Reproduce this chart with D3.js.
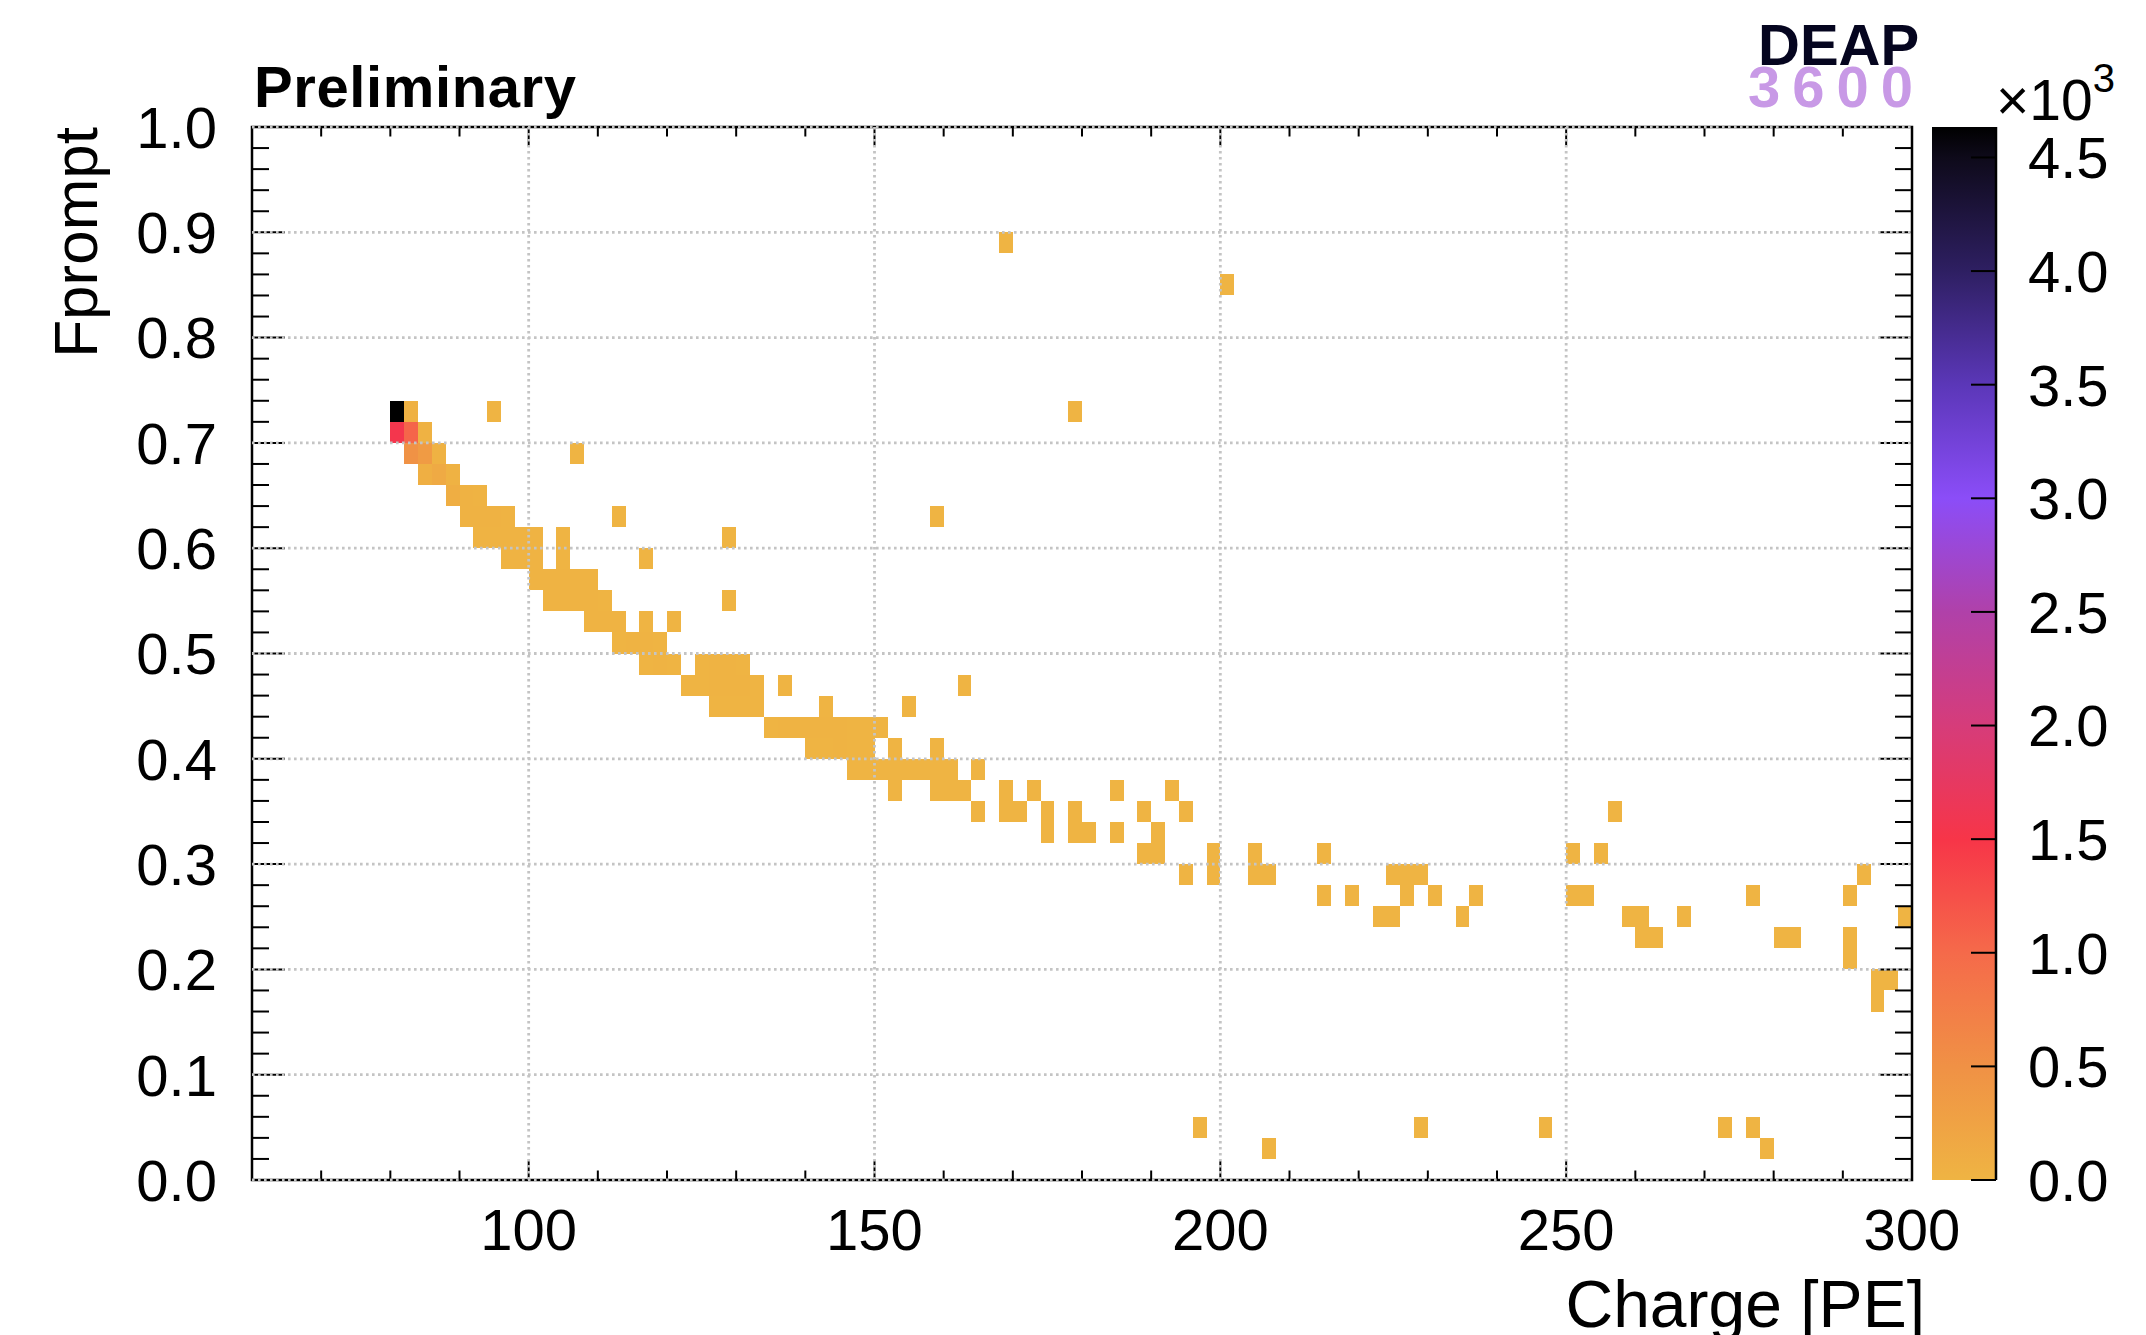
<!DOCTYPE html>
<html>
<head>
<meta charset="utf-8">
<title>Fprompt vs Charge</title>
<script src="https://cdnjs.cloudflare.com/ajax/libs/d3/7.8.5/d3.min.js"></script>
<style>
body{
    margin: 0;
    padding: 0;
    background: #fff;
}
svg text{
    font-family: "Liberation Sans", Arial, Helvetica, sans-serif;
}
</style>
</head>
<body>
<div id="chart"></div>
<script>
// histogram bins: lower edge of each Fprompt row, and the charge bins (lower edges) filled in it
var binCharge = 2, binFprompt = 0.02;
var fpromptRows = [0.88, 0.84, 0.72, 0.70, 0.68, 0.66, 0.64, 0.62, 0.60, 0.58, 0.56, 0.54, 0.52, 0.50,
    0.48, 0.46, 0.44, 0.42, 0.40, 0.38, 0.36, 0.34, 0.32, 0.30, 0.28, 0.26, 0.24, 0.22, 0.20, 0.18,
    0.16, 0.04, 0.02];
var chargeByRow = [
    [168],
    [200],
    [80, 82, 94, 178],
    [80, 82, 84],
    [82, 84, 86, 106],
    [84, 86, 88],
    [88, 90, 92],
    [90, 92, 94, 96, 112, 158],
    [92, 94, 96, 98, 100, 104, 128],
    [96, 98, 100, 104, 116],
    [100, 102, 104, 106, 108],
    [102, 104, 106, 108, 110, 128],
    [108, 110, 112, 116, 120],
    [112, 114, 116, 118],
    [116, 118, 120, 124, 126, 128, 130],
    [122, 124, 126, 128, 130, 132, 136, 162],
    [126, 128, 130, 132, 142, 154],
    [134, 136, 138, 140, 142, 144, 146, 148, 150],
    [140, 142, 144, 146, 148, 152, 158],
    [146, 148, 150, 152, 154, 156, 158, 160, 164],
    [152, 158, 160, 162, 168, 172, 184, 192],
    [164, 168, 170, 174, 178, 188, 194, 256],
    [174, 178, 180, 184, 190],
    [188, 190, 198, 204, 214, 250, 254],
    [194, 198, 204, 206, 224, 226, 228, 292],
    [214, 218, 226, 230, 236, 250, 252, 276, 290],
    [222, 224, 234, 258, 260, 266, 298],
    [260, 262, 280, 282, 290],
    [290],
    [294, 296],
    [294],
    [196, 228, 246, 272, 276],
    [206, 278]
];
var countsByRow = [
    [4],
    [3],
    [4634, 40, 6, 3],
    [1550, 1050, 35],
    [480, 360, 30, 4],
    [70, 140, 25],
    [90, 30, 20],
    [25, 30, 22, 15, 3, 2],
    [12, 20, 18, 14, 10, 4, 2],
    [10, 14, 12, 5, 3],
    [14, 16, 15, 11, 8],
    [9, 12, 14, 10, 7, 2],
    [8, 11, 9, 4, 3],
    [7, 10, 9, 6],
    [5, 8, 6, 5, 8, 9, 6],
    [4, 7, 9, 10, 8, 5, 3, 2],
    [4, 6, 7, 5, 3, 2],
    [6, 8, 9, 10, 9, 8, 7, 6, 4],
    [5, 7, 8, 6, 5, 3, 2],
    [4, 5, 6, 6, 5, 5, 4, 3, 2],
    [3, 3, 4, 3, 2, 2, 2, 2],
    [3, 3, 2, 2, 2, 2, 2, 1],
    [2, 3, 2, 2, 2],
    [2, 2, 2, 2, 1, 2, 1],
    [2, 2, 2, 2, 2, 2, 1, 1],
    [1, 1, 2, 1, 1, 2, 1, 1, 1],
    [2, 1, 1, 2, 1, 1, 1],
    [1, 2, 1, 1, 1],
    [1],
    [1, 2],
    [1],
    [1, 1, 1, 1, 1],
    [1, 1]
];

var xTicks = [100, 150, 200, 250, 300];
var yTicks = [0, 0.1, 0.2, 0.3, 0.4, 0.5, 0.6, 0.7, 0.8, 0.9, 1.0];
var zTicks = [0, 500, 1000, 1500, 2000, 2500, 3000, 3500, 4000, 4500];
var zMax = 4634;
// palette stops (counts) and colours
var paletteStops = [0, 500, 1000, 1500, 2000, 2500, 3000, 3500, 4000, 4500, 4634];
var paletteColors = ["#efb443", "#f09145", "#f56a4a", "#f73548", "#d63c7a", "#b041a9",
    "#8b4df8", "#5b37b8", "#2e1f62", "#0e0a1a", "#000000"];

(function(){
var W = 2146, H = 1335;
var left = 252, right = 1912, top = 127, bottom = 1180;
var cbLeft = 1932, cbRight = 1996;

var svg = d3.select("#chart").append("svg")
    .attr("width", W).attr("height", H);

var x = d3.scaleLinear().domain([60, 300]).range([left, right]);
var y = d3.scaleLinear().domain([0, 1]).range([bottom, top]);
var z = d3.scaleLinear().domain([0, zMax]).range([bottom, top]);
var color = d3.scaleLinear().domain(paletteStops).range(paletteColors).clamp(true);

var cells = [];
fpromptRows.forEach(function(f, i){
    chargeByRow[i].forEach(function(c, j){
        cells.push({c: c, f: f, n: countsByRow[i][j]});
    });
});

svg.append("g").selectAll("rect")
    .data(cells)
    .enter().append("rect")
    .attr("x", function(d){return x(d.c);})
    .attr("y", function(d){return y(d.f + binFprompt);})
    .attr("width", function(d){return x(d.c + binCharge) - x(d.c);})
    .attr("height", function(d){return y(d.f) - y(d.f + binFprompt);})
    .attr("fill", function(d){return color(d.n);})
    .attr("shape-rendering", "crispEdges");

// frame
svg.append("rect")
    .attr("x", left).attr("y", top)
    .attr("width", right - left).attr("height", bottom - top)
    .attr("fill", "none").attr("stroke", "#000").attr("stroke-width", 2.5);

// ticks on all four sides
var xMinor = d3.range(70, 300, 10);
var yMinor = d3.range(0, 1.001, 0.02);
var tk = svg.append("g").attr("stroke", "#000").attr("stroke-width", 2);
xMinor.forEach(function(v){
    var len = (v % 50 === 0) ? 19 : 9.5;
    tk.append("line").attr("x1", x(v)).attr("x2", x(v)).attr("y1", bottom).attr("y2", bottom - len);
    tk.append("line").attr("x1", x(v)).attr("x2", x(v)).attr("y1", top).attr("y2", top + len);
});
yMinor.forEach(function(v, i){
    var len = (i % 5 === 0) ? 33 : 17;
    tk.append("line").attr("x1", left).attr("x2", left + len).attr("y1", y(v)).attr("y2", y(v));
    tk.append("line").attr("x1", right).attr("x2", right - len).attr("y1", y(v)).attr("y2", y(v));
});

// dotted grid on top
var grid = svg.append("g").attr("stroke", "#c4c4c4").attr("stroke-width", 2.8)
    .attr("stroke-dasharray", "2.6,3.4");
xTicks.filter(function(v){return v < 300;}).forEach(function(v){
    grid.append("line").attr("x1", x(v)).attr("x2", x(v)).attr("y1", top).attr("y2", bottom);
});
yTicks.forEach(function(v){
    grid.append("line").attr("x1", left).attr("x2", right).attr("y1", y(v)).attr("y2", y(v));
});

// axes labels
svg.append("g").selectAll("text")
    .data(xTicks).enter().append("text")
    .attr("x", function(d){return x(d);})
    .attr("y", 1250)
    .attr("text-anchor", "middle")
    .attr("font-size", "58px")
    .text(function(d){return d;});
svg.append("g").selectAll("text")
    .data(yTicks).enter().append("text")
    .attr("x", 217)
    .attr("y", function(d){return y(d);})
    .attr("dy", "0.36em")
    .attr("text-anchor", "end")
    .attr("font-size", "58px")
    .text(function(d){return d.toFixed(1);});

svg.append("text")
    .attr("x", 1925).attr("y", 1327)
    .attr("text-anchor", "end")
    .attr("font-size", "66px")
    .text("Charge [PE]");
svg.append("text")
    .attr("transform", "translate(97," + top + ") rotate(-90)")
    .attr("text-anchor", "end")
    .attr("font-size", "62px")
    .text("Fprompt");

// colour bar
var grad = svg.append("defs").append("linearGradient")
    .attr("id", "pal").attr("x1", 0).attr("y1", 1).attr("x2", 0).attr("y2", 0);
grad.selectAll("stop").data(paletteStops).enter().append("stop")
    .attr("offset", function(d){return d / zMax;})
    .attr("stop-color", function(d){return color(d);});
svg.append("rect")
    .attr("x", cbLeft).attr("y", top)
    .attr("width", cbRight - cbLeft).attr("height", bottom - top)
    .attr("fill", "url(#pal)");
svg.append("line")
    .attr("x1", cbRight).attr("x2", cbRight).attr("y1", top).attr("y2", bottom)
    .attr("stroke", "#000").attr("stroke-width", 2.5);
svg.append("g").selectAll("line")
    .data(zTicks).enter().append("line")
    .attr("x1", cbRight - 25).attr("x2", cbRight)
    .attr("y1", function(d){return z(d);}).attr("y2", function(d){return z(d);})
    .attr("stroke", "#000").attr("stroke-width", 2);
svg.append("g").selectAll("text")
    .data(zTicks).enter().append("text")
    .attr("x", 2028)
    .attr("y", function(d){return z(d);})
    .attr("dy", "0.36em")
    .attr("font-size", "58px")
    .text(function(d){return (d / 1000).toFixed(1);});
var mult = svg.append("text").attr("x", 1996).attr("y", 120).attr("font-size", "57px");
mult.append("tspan").text("\u00d710");
mult.append("tspan").attr("font-size", "40px").attr("dy", -28).text("3");

// labels on top
svg.append("text")
    .attr("x", 254).attr("y", 107)
    .attr("font-size", "58px").attr("font-weight", "bold")
    .attr("textLength", 322)
    .text("Preliminary");
svg.append("text")
    .attr("x", 1758).attr("y", 65)
    .attr("font-size", "58px").attr("font-weight", "bold")
    .attr("fill", "#05051f")
    .text("DEAP");
svg.append("text")
    .attr("x", 1748).attr("y", 107)
    .attr("font-size", "58px").attr("font-weight", "bold")
    .attr("fill", "#c899e6")
    .attr("letter-spacing", "12px")
    .text("3600");
})();
</script>
</body>
</html>
